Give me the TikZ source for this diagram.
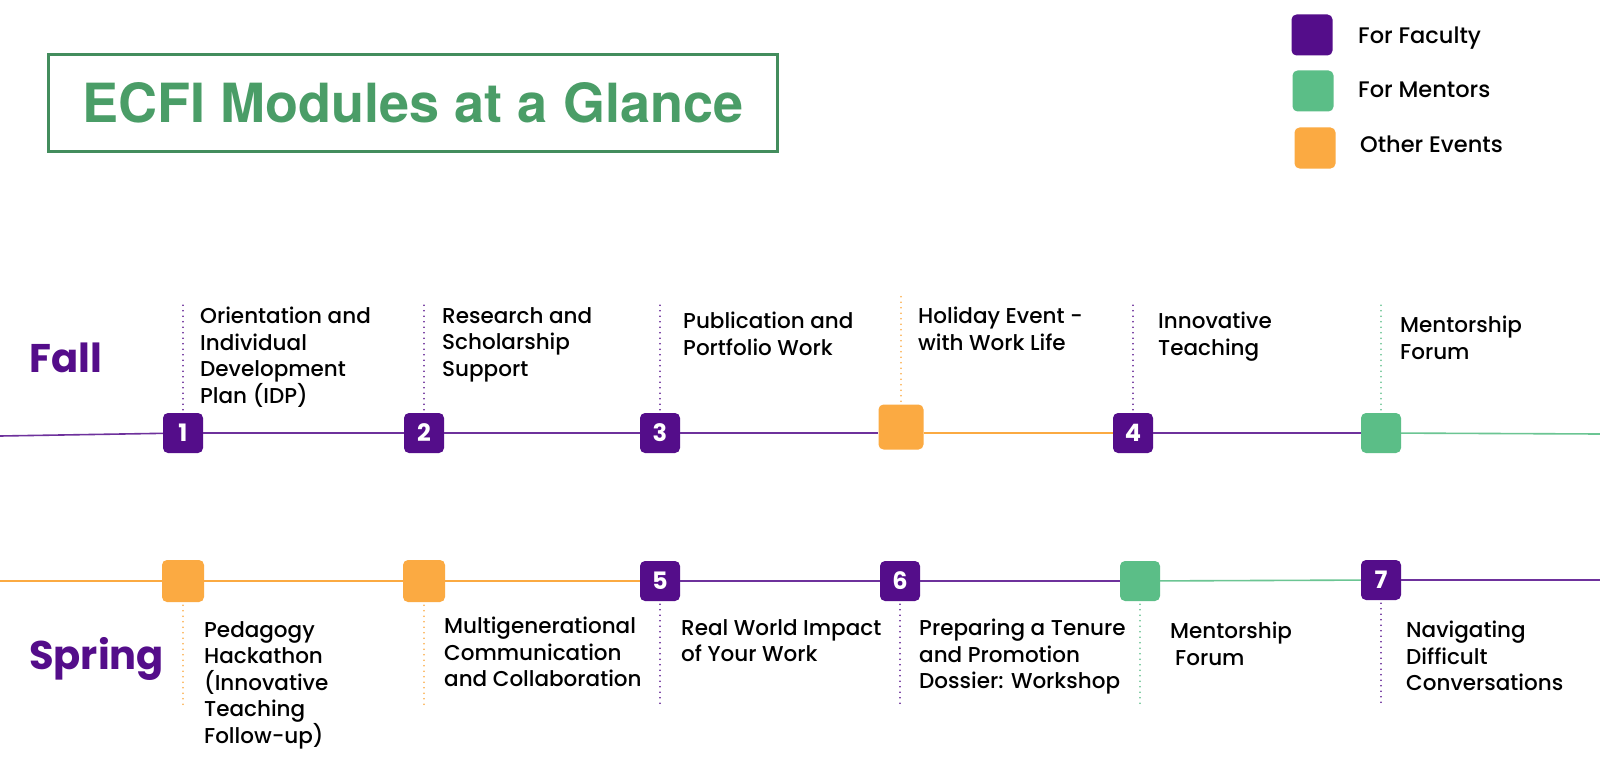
\documentclass[tikz,border=0pt]{standalone}
\usepackage{fontspec}
\setmainfont{Poppins}
\newfontfamily\bodyfont{Poppins}[UprightFont={* Medium}]
\newfontfamily\titlefont{TeX Gyre Heros}
\usetikzlibrary{positioning}
\definecolor{ecfipurple}{HTML}{540D8A}
\definecolor{ecfigreen}{HTML}{5BBE87}
\definecolor{ecfiorange}{HTML}{FBAA42}
\definecolor{ecfititle}{HTML}{4A9D67}
\tikzset{
  modbox/.style={rounded corners=5pt,minimum size=40pt,inner sep=0pt,text=white,font=\fontsize{24}{24}\selectfont\bfseries},
  facbox/.style={modbox,fill=ecfipurple},
  mentbox/.style={modbox,fill=ecfigreen},
  evtbox/.style={modbox,fill=ecfiorange,minimum size=42pt},
  tlfac/.style={draw=ecfipurple!85,line width=1.6pt},
  tlment/.style={draw=ecfigreen!90,line width=1.6pt},
  tlevt/.style={draw=ecfiorange,line width=1.6pt},
  guide/.style={line width=1.8pt,dash pattern=on 0pt off 5.5pt,line cap=round},
  modtext/.style={anchor=north west,align=left,inner sep=0pt,font=\bodyfont\fontsize{21.5}{26.5}\selectfont},
  season/.style={anchor=base west,inner sep=0pt,text=ecfipurple,font=\fontsize{40}{40}\selectfont\bfseries},
  keybox/.style={rounded corners=5pt,minimum size=41pt,inner sep=0pt},
  keytext/.style={anchor=base west,inner sep=0pt,font=\bodyfont\fontsize{22.5}{22.5}\selectfont}
}
\begin{document}
\begin{tikzpicture}[x=1pt,y=-1pt]
\useasboundingbox[fill=white] (0,0) rectangle (1600,765);
% title and key
\node[draw=ecfititle!90!black,line width=2.5pt,minimum width=729pt,minimum height=97pt,text=ecfititle,font=\titlefont\bfseries\fontsize{54}{54}\selectfont] (title) at (413,103) {ECFI Modules at a Glance};
\node[keybox,fill=ecfipurple] (kfac) at (1312,35) {};
\node[keybox,fill=ecfigreen] (kment) at (1313,91) {};
\node[keybox,fill=ecfiorange] (kevt) at (1315,148) {};
\node[keytext] (kfact) at (1358,44) {For Faculty};
\node[keytext] (kmentt) at (1358,98) {For Mentors};
\node[keytext] (kevtt) at (1360,153) {Other Events};
% seasons
\node[season] (fall) at (29,372) {Fall};
\node[season] (spring) at (29,669) {Spring};
% fall row
\coordinate (fL) at (0,436);
\coordinate (fR) at (1600,434);
\node[facbox] (f1) at (183,433) {1};
\node[facbox] (f2) at (424,433) {2};
\node[facbox] (f3) at (660,433) {3};
\node[evtbox,minimum size=45pt] (fh) at (901,427) {};
\node[facbox] (f4) at (1133,433) {4};
\node[mentbox] (fm) at (1381,433) {};
\draw[tlfac] (fL) -- (f1);
\draw[tlfac] (f1) -- (f2);
\draw[tlfac] (f2) -- (f3);
\draw[tlfac] (f3.east) -- (f3.east -| fh.west);
\draw[tlevt] (f4.west -| fh.east) -- (f4.west);
\draw[tlfac] (f4) -- (fm);
\draw[tlment] (fm) -- (fR);
\foreach \n/\c in {f1/ecfipurple,f2/ecfipurple,f3/ecfipurple,fh/ecfiorange,f4/ecfipurple,fm/ecfigreen}{\draw[guide,draw=\c] ([yshift=3pt]\n.north) -- ++(0,-106);}
\node[modtext] (t1) at (200,307) {Orientation and\\Individual\\Development\\Plan (IDP)};
\node[modtext] (t2) at (442,307) {Research and\\Scholarship\\Support};
\node[modtext] (t3) at (683,312) {Publication and\\Portfolio Work};
\node[modtext] (th) at (918,307) {Holiday Event -\\with Work Life};
\node[modtext] (t4) at (1158,312) {Innovative\\Teaching};
\node[modtext] (tm) at (1400,316) {Mentorship\\Forum};
% spring row
\coordinate (sL) at (0,581);
\coordinate (sR) at (1600,580);
\node[evtbox] (s1) at (183,581) {};
\node[evtbox] (s2) at (424,581) {};
\node[facbox] (s5) at (660,581) {5};
\node[facbox] (s6) at (900,581) {6};
\node[mentbox] (sm) at (1140,581) {};
\node[facbox] (s7) at (1381,580) {7};
\draw[tlevt] (sL) -- (s1);
\draw[tlevt] (s1) -- (s2);
\draw[tlevt] (s2) -- (s5);
\draw[tlfac] (s5) -- (s6);
\draw[tlfac] (s6) -- (sm);
\draw[tlment] (sm) -- (s7);
\draw[tlfac] (s7) -- (sR);
\foreach \n/\c in {s1/ecfiorange,s2/ecfiorange,s5/ecfipurple,s6/ecfipurple,sm/ecfigreen,s7/ecfipurple}{\draw[guide,draw=\c] ([yshift=-3pt]\n.south) -- ++(0,102);}
\node[modtext] (u1) at (204,621) {Pedagogy\\Hackathon\\(Innovative\\Teaching\\Follow-up)};
\node[modtext] (u2) at (444,617) {Multigenerational\\Communication\\and Collaboration};
\node[modtext] (u5) at (681,619) {Real World Impact\\of Your Work};
\node[modtext] (u6) at (919,619) {Preparing a Tenure\\and Promotion\\Dossier: Workshop};
\node[modtext] (um) at (1170,622) {Mentorship\\\hspace{5pt}Forum};
\node[modtext] (u7) at (1406,621) {Navigating\\Difficult\\Conversations};
\end{tikzpicture}
\end{document}
